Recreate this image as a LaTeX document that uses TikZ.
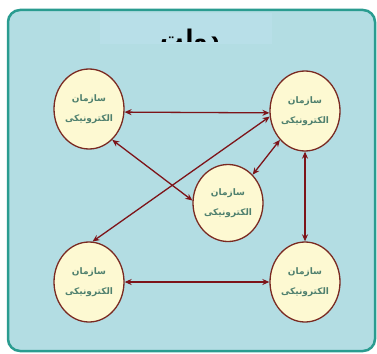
\documentclass[tikz,border=0pt]{standalone}
\usepackage{fontspec}
\usetikzlibrary{shapes.geometric,arrows.meta}
\TeXXeTstate=1
\newfontfamily\arabicfont[Script=Arabic]{DejaVu Sans}
\definecolor{panelfill}{HTML}{B3DDE3}
\definecolor{paneledge}{HTML}{2A9C90}
\definecolor{titlefill}{HTML}{B8DFE8}
\definecolor{orgfill}{HTML}{FDF9D2}
\definecolor{orgedge}{HTML}{7A2A22}
\definecolor{orgtext}{HTML}{4F806E}
\definecolor{linkred}{HTML}{7D1419}
\newcommand{\orglabel}{\beginR سازمان\endR\\\beginR الکترونیکی\endR}
\begin{document}
\begin{tikzpicture}[x=1pt,y=-1pt,
  org/.style={ellipse, draw=orgedge, line width=1.3pt, fill=orgfill,
    minimum width=70pt, minimum height=80pt, inner sep=0pt, align=center,
    text=orgtext, font=\arabicfont\bfseries\fontsize{9}{20}\selectfont},
  link/.style={draw=linkred, line width=1.3pt,
    {Stealth[length=7pt,width=6pt]}-{Stealth[length=7pt,width=6pt]}}]
\useasboundingbox (0,0) rectangle (377,353);
% framed panel
\draw[fill=panelfill, draw=paneledge, line width=2.5pt, rounded corners=12pt]
  (8,10) rectangle (375,351);
% title strip with the heading cut at its lower edge
\fill[titlefill] (100,13) rectangle (272,44);
\begin{scope}
  \clip (100,13) rectangle (272,42);
  \node[anchor=base, font=\arabicfont\bfseries\fontsize{23}{23}\selectfont]
    (title) at (190,47) {\beginR دولت\endR};
\end{scope}
% organisations
\node[org] (tl)  at (89,109)  {\orglabel};
\node[org] (tr)  at (305,111) {\orglabel};
\node[org, minimum height=77pt] (mid) at (228,203) {\orglabel};
\node[org] (bl)  at (89,282)  {\orglabel};
\node[org] (br)  at (305,282) {\orglabel};
% two-way links
\draw[link] (tl.-5) -- (tr.183);
\draw[link] (tl.-53) -- (mid.176);
\draw[link] (tr.189) -- (bl.85);
\draw[link] (tr.229) -- (mid.49);
\draw[link] (tr.south) -- (br.north);
\draw[link] (bl.east) -- (br.west);
\end{tikzpicture}
\end{document}
